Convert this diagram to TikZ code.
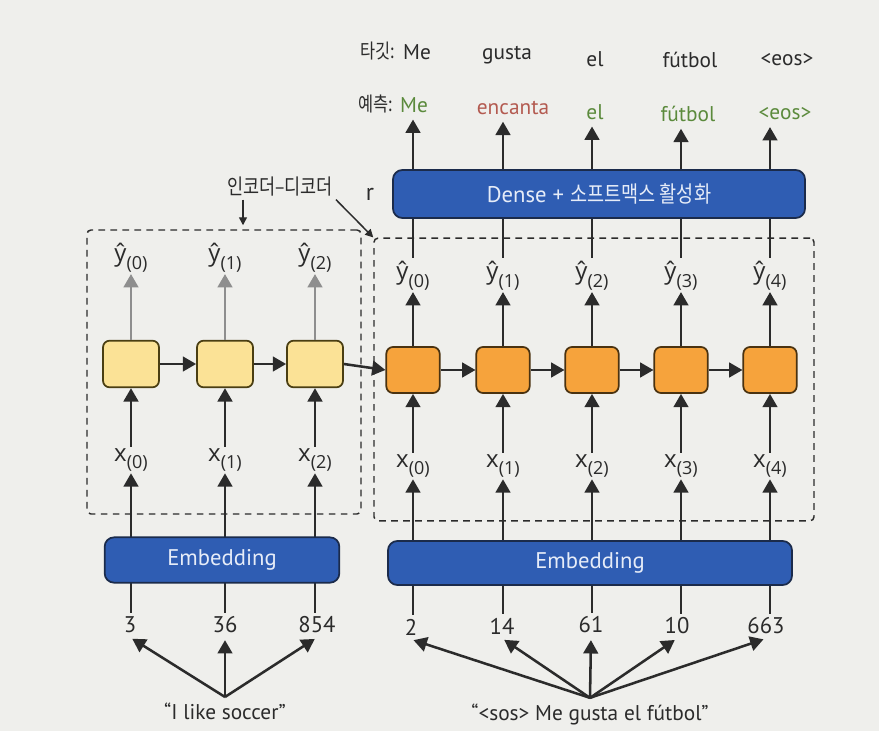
\documentclass[tikz,border=0pt]{standalone}
\usepackage{fontspec}
\setmainfont{PT Sans}
\newfontfamily\osans{Open Sans}
\newfontfamily\kr[FakeStretch=0.82]{Noto Sans CJK KR}
\usetikzlibrary{arrows.meta}
\definecolor{bg}{HTML}{EFEFEC}
\definecolor{ink}{HTML}{2B2B2B}
\definecolor{blueF}{HTML}{2F5DB3}
\definecolor{blueD}{HTML}{1B2B4B}
\definecolor{yelF}{HTML}{FBE296}
\definecolor{yelD}{HTML}{4A3E12}
\definecolor{orF}{HTML}{F6A33C}
\definecolor{orD}{HTML}{4A3210}
\definecolor{grayA}{HTML}{8E8E8E}
\definecolor{grn}{HTML}{5B8A3C}
\definecolor{rd}{HTML}{B35A50}
\definecolor{boxtxt}{HTML}{E6ECF8}
\newcommand\subs[1]{\raisebox{-0.6ex}{\fontsize{13.5}{16}\selectfont #1}}
\begin{document}
\begin{tikzpicture}[x=0.75pt,y=-0.75pt,
  arr/.style={draw=ink, line width=1.9pt, -{Triangle[width=11pt,length=10pt]}},
  garr/.style={draw=grayA, line width=1.9pt, -{Triangle[width=11pt,length=10pt]}},
  thinarr/.style={draw=ink, line width=1.1pt, -{Triangle[width=6pt,length=6pt]}},
  cellE/.style={draw=yelD, fill=yelF, line width=1.3pt, rounded corners=5pt, minimum width=42pt, minimum height=35pt, inner sep=0pt},
  cellD/.style={draw=orD, fill=orF, line width=1.3pt, rounded corners=5pt, minimum width=40pt, minimum height=34.5pt, inner sep=0pt},
  lbl/.style={font=\osans\fontsize{18}{21}\selectfont, text=ink, inner sep=1pt},
  num/.style={font=\fontsize{17}{20}\selectfont, text=ink, inner sep=3pt},
  toplbl/.style={font=\fontsize{16}{19}\selectfont, inner sep=2pt},
  blk/.style={draw=blueD, fill=blueF, line width=1.3pt, rounded corners=7pt, text=boxtxt, font=\fontsize{17}{20}\selectfont},
  dbox/.style={draw=ink, dash pattern=on 5pt off 4pt, line width=1.1pt, rounded corners=3pt, inner sep=0pt},
  sent/.style={font=\fontsize{16}{19}\selectfont, text=ink, inner sep=4pt}]
\useasboundingbox (0,0) rectangle (879,731);
\fill[bg] (0,0) rectangle (879,731);

% dashed boxes
\node[dbox, minimum width=205.5pt, minimum height=213pt] (encbox) at (224,372) {};
\node[dbox, minimum width=330pt, minimum height=212pt] (decbox) at (594,379.5) {};

% annotations
\node[font=\kr\fontsize{16}{19}\selectfont, text=ink, inner sep=2pt] (ann) at (280,187) {인코더–디코더};
\node[font=\fontsize{18}{20}\selectfont, text=ink] (rr) at (370,194) {r};
\coordinate (a1) at (243,0);
\draw[thinarr] (ann.south -| a1) -- ([yshift=3pt]encbox.north -| a1);
\draw[thinarr] (ann.south east) -- (decbox.north west);

% encoder
\foreach \i/\x in {0/131,1/225,2/315}{
  \node[cellE] (e\i) at (\x,364) {};
  \node[lbl] (ey\i) at (\x,258) {ŷ\subs{(\i)}};
  \node[lbl] (ex\i) at (\x,460) {x\subs{(\i)}};
  \draw[garr] (e\i.north) -- (e\i.north |- ey\i.south);
  \draw[arr] (e\i.south |- ex\i.north) -- (e\i.south);
}
% decoder
\foreach \i/\x in {0/413,1/503,2/592,3/681,4/770}{
  \node[cellD] (d\i) at (\x,370) {};
  \node[lbl] (dy\i) at (\x,276) {ŷ\subs{(\i)}};
  \node[lbl] (dx\i) at (\x,466) {x\subs{(\i)}};
  \draw[arr] (d\i.north) -- (d\i.north |- dy\i.south);
  \draw[arr] (d\i.south |- dx\i.north) -- (d\i.south);
}
\draw[arr] (e0.east) -- (e1.west);
\draw[arr] (e1.east) -- (e2.west);
\draw[arr] (e2.east) -- (d0.west);
\draw[arr] (d0.east) -- (d1.west);
\draw[arr] (d1.east) -- (d2.west);
\draw[arr] (d2.east) -- (d3.west);
\draw[arr] (d3.east) -- (d4.west);

% top labels
\node[toplbl, font=\kr\fontsize{15}{18}\selectfont, text=ink] (tk) at (378,51) {타깃:};
\node[toplbl, font=\kr\fontsize{15}{18}\selectfont, text=ink] (yc) at (376,104) {예측:};
\node[toplbl, text=ink] (t0) at (417,52) {Me};
\node[toplbl, text=ink] (t1) at (507,55) {gusta};
\node[toplbl, text=ink] (t2) at (595,59) {el};
\node[toplbl, text=ink] (t3) at (690,60) {fútbol};
\node[toplbl, text=ink] (t4) at (787,60) {<eos>};
\node[toplbl, text=grn] (p0) at (414,105) {Me};
\node[toplbl, text=rd] (p1) at (513,108) {encanta};
\node[toplbl, text=grn] (p2) at (595,112) {el};
\node[toplbl, text=grn] (p3) at (688,114) {fútbol};
\node[toplbl, text=grn] (p4) at (785,114) {<eos>};
\foreach \i in {0,...,4}{
  \draw[arr, shorten >=3pt] (dy\i.north) ++(0,-2) -- (d\i.north |- p\i.south);
}

% token numbers
\node[num] (n0) at (130,625) {3};
\node[num] (n1) at (225,625) {36};
\node[num] (n2) at (317,625) {854};
\node[num] (m0) at (411,627) {2};
\node[num] (m1) at (502,626) {14};
\node[num] (m2) at (591,625) {61};
\node[num] (m3) at (677,626) {10};
\node[num] (m4) at (766,626) {663};
\foreach \i in {0,1,2}{
  \draw[arr] (e\i |- n\i.north) -- (e\i |- ex\i.south);
}
\foreach \i in {0,...,4}{
  \draw[arr] (d\i |- m\i.north) -- (d\i |- dx\i.south);
}

% blue blocks
\node[blk, minimum width=176pt, minimum height=34pt] (emb1) at (222,560) {Embedding};
\node[blk, minimum width=303pt, minimum height=33pt] (emb2) at (590,563) {Embedding};
\node[blk, minimum width=309pt, minimum height=36pt] (dense) at (599,194) {Dense + {\kr 소프트맥스 활성화}};

% sentences
\node[sent] (s1) at (225,711) {“I like soccer”};
\node[sent] (s2) at (590,714) {“<sos> Me gusta el fútbol”};
\foreach \n in {n0,n1,n2}{
  \draw[arr, shorten >=2pt] (s1.north) -- (\n.south);
}
\foreach \n in {m0,m1,m2,m3,m4}{
  \draw[arr, shorten >=2pt] (s2.north) -- (\n.south);
}
\end{tikzpicture}
\end{document}
